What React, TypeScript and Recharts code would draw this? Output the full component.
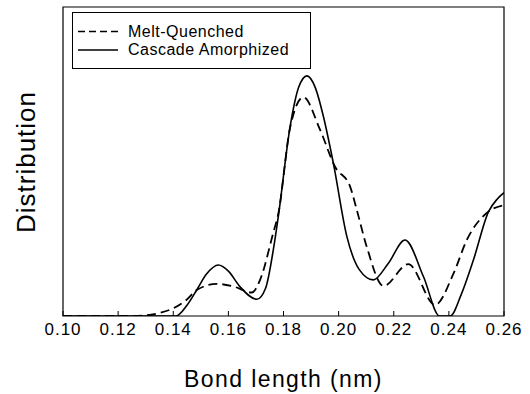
import * as React from "react"
import { Line, LineChart, XAxis, YAxis, ReferenceArea } from "recharts"

// bond length (nm) and distribution (arbitrary units)
const meltX = [0.1, 0.125, 0.13, 0.135, 0.14, 0.1445, 0.1485, 0.1558, 0.162, 0.1685, 0.1715, 0.1763, 0.1781, 0.1824, 0.1872, 0.1933, 0.1987, 0.2042, 0.2066, 0.2102, 0.2163, 0.2253, 0.235, 0.2417, 0.2465, 0.2544, 0.26]
const meltY = [0, 0, 0.2, 1, 2.5, 5, 8.4, 10.4, 9.5, 7.6, 11.7, 27, 33, 61, 70.8, 60.2, 48.3, 41.8, 34.3, 22.4, 9.7, 16.8, 3.6, 13.8, 24.6, 33.8, 35.9]

const cascadeX = [0.1, 0.12, 0.141, 0.145, 0.1485, 0.152, 0.1564, 0.16, 0.1642, 0.1703, 0.1735, 0.1763, 0.1781, 0.1824, 0.1855, 0.1885, 0.1915, 0.1945, 0.1981, 0.203, 0.2075, 0.2126, 0.218, 0.2241, 0.2308, 0.2366, 0.2405, 0.2445, 0.2489, 0.2544, 0.2575, 0.26]
const cascadeY = [0, 0, 0, 3.5, 8.4, 13.5, 16.5, 14.5, 9.5, 5.4, 9, 21.4, 32.1, 61.3, 74, 77.7, 74, 64.5, 49.4, 25.7, 15, 11.7, 17, 24.6, 12.7, 0, 0, 7, 18.1, 33.8, 37.8, 39.9]

const xTicks = [0.1, 0.12, 0.14, 0.16, 0.18, 0.2, 0.22, 0.24, 0.26]

const meltData = meltX.map((x, i) => ({ x, y: meltY[i] }))
const cascadeData = cascadeX.map((x, i) => ({ x, y: cascadeY[i] }))

const font = "Liberation Sans, Arial, sans-serif"

function BottomTick(props: any) {
  const { x, y, payload } = props
  const axisY = y - 14
  return (
    <g>
      <line x1={x} x2={x} y1={axisY} y2={axisY - 5} stroke="#000" strokeWidth={1} />
      <text x={x} y={axisY + 19} textAnchor="middle" fontSize={17} letterSpacing={1} fill="#000" fontFamily={font}>
        {payload.value.toFixed(2)}
      </text>
    </g>
  )
}

function LegendBox() {
  return (
    <svg width={239} height={57} style={{ position: "absolute", left: 72, top: 12, display: "block" }}>
      <rect x={0.5} y={0.5} width={238} height={56} fill="#fff" stroke="#000" strokeWidth={1} />
      <line x1={6} x2={46} y1={19.5} y2={19.5} stroke="#000" strokeWidth={1.6} strokeDasharray="7 4" />
      <text x={56} y={24.5} fontSize={16} letterSpacing={0.5} fontFamily={font} fill="#000">Melt-Quenched</text>
      <line x1={6} x2={46} y1={38} y2={38} stroke="#000" strokeWidth={1.6} />
      <text x={56} y={43} fontSize={16} letterSpacing={0.5} fontFamily={font} fill="#000">Cascade Amorphized</text>
    </svg>
  )
}

export default function App() {
  return (
    <div style={{ position: "absolute", left: 0, top: 0, width: 530, height: 394, background: "#fff" }}>
      <LineChart width={530} height={394} margin={{ top: 7, right: 26, bottom: 0, left: 62 }}>
        <XAxis
          dataKey="x"
          type="number"
          domain={[0.1, 0.26]}
          ticks={xTicks}
          allowDataOverflow
          height={78}
          tickLine={false}
          tickSize={0}
          tickMargin={14}
          tick={<BottomTick />}
          axisLine={false}
          label={{
            content: (p: any) => (
              <text
                x={p.viewBox.x + p.viewBox.width / 2}
                y={p.viewBox.y + 70.5}
                textAnchor="middle"
                fontSize={23}
                letterSpacing={1.4}
                fontFamily={font}
                fill="#000"
              >
                Bond length (nm)
              </text>
            ),
          }}
        />
        <YAxis
          type="number"
          domain={[0, 100]}
          allowDataOverflow
          width={1}
          tick={false}
          tickLine={false}
          axisLine={false}
          label={{
            content: (p: any) => (
              <text
                transform={`translate(${p.viewBox.x - 36}, ${p.viewBox.y + 155}) rotate(-90)`}
                textAnchor="middle"
                dominantBaseline="central"
                fontSize={26}
                letterSpacing={1}
                fontFamily={font}
                fill="#000"
              >
                Distribution
              </text>
            ),
          }}
        />
        <ReferenceArea x1={0.1} x2={0.26} y1={0} y2={100} fill="none" stroke="#000" strokeWidth={1.2} ifOverflow="visible" />
        <Line
          data={meltData}
          dataKey="y"
          name="Melt-Quenched"
          type="monotone"
          stroke="#000"
          strokeWidth={1.8}
          strokeDasharray="9 5"
          dot={false}
          isAnimationActive={false}
        />
        <Line
          data={cascadeData}
          dataKey="y"
          name="Cascade Amorphized"
          type="monotone"
          stroke="#000"
          strokeWidth={1.6}
          dot={false}
          isAnimationActive={false}
        />
      </LineChart>
      <LegendBox />
    </div>
  )
}
